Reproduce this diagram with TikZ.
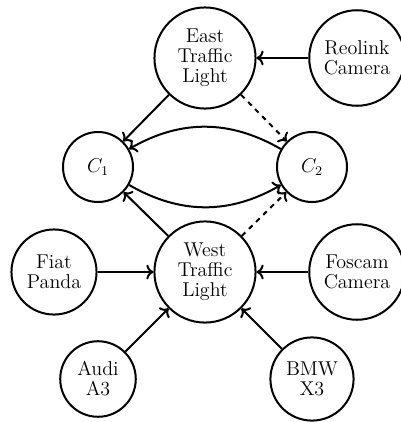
\documentclass[tikz,border=0pt]{standalone}
\usetikzlibrary{arrows.meta}
\begin{document}
\begin{tikzpicture}[x=0.6pt,y=-0.6pt,
  every node/.style={circle, draw, very thick, align=center, inner sep=4.6pt, minimum size=42pt, font=\fontsize{12}{12}\selectfont},
  edge/.style={very thick, ->},
  dashedge/.style={very thick, ->, dashed}]
\useasboundingbox (0,0) rectangle (401,422);
\node (east) at (205,58) {East\\Traffic\\Light};
\node (reo) at (357,58) {Reolink\\Camera};
\node (c1) at (98,167) {$C_1$};
\node (c2) at (312,167) {$C_2$};
\node (west) at (205,272) {West\\Traffic\\Light};
\node (fiat) at (54,272) {Fiat\\Panda};
\node (fos) at (357,272) {Foscam\\Camera};
\node (audi) at (98,379) {Audi\\A3};
\node (bmw) at (312,379) {BMW\\X3};
\draw[edge] (reo) -- (east);
\draw[edge] (east) -- (c1);
\draw[dashedge] (east) -- (c2);
\draw[edge] (c2) to[bend right=30] (c1);
\draw[edge] (c1) to[bend right=30] (c2);
\draw[edge] (west) -- (c1);
\draw[dashedge] (west) -- (c2);
\draw[edge] (fiat) -- (west);
\draw[edge] (fos) -- (west);
\draw[edge] (audi) -- (west);
\draw[edge] (bmw) -- (west);
\end{tikzpicture}
\end{document}
